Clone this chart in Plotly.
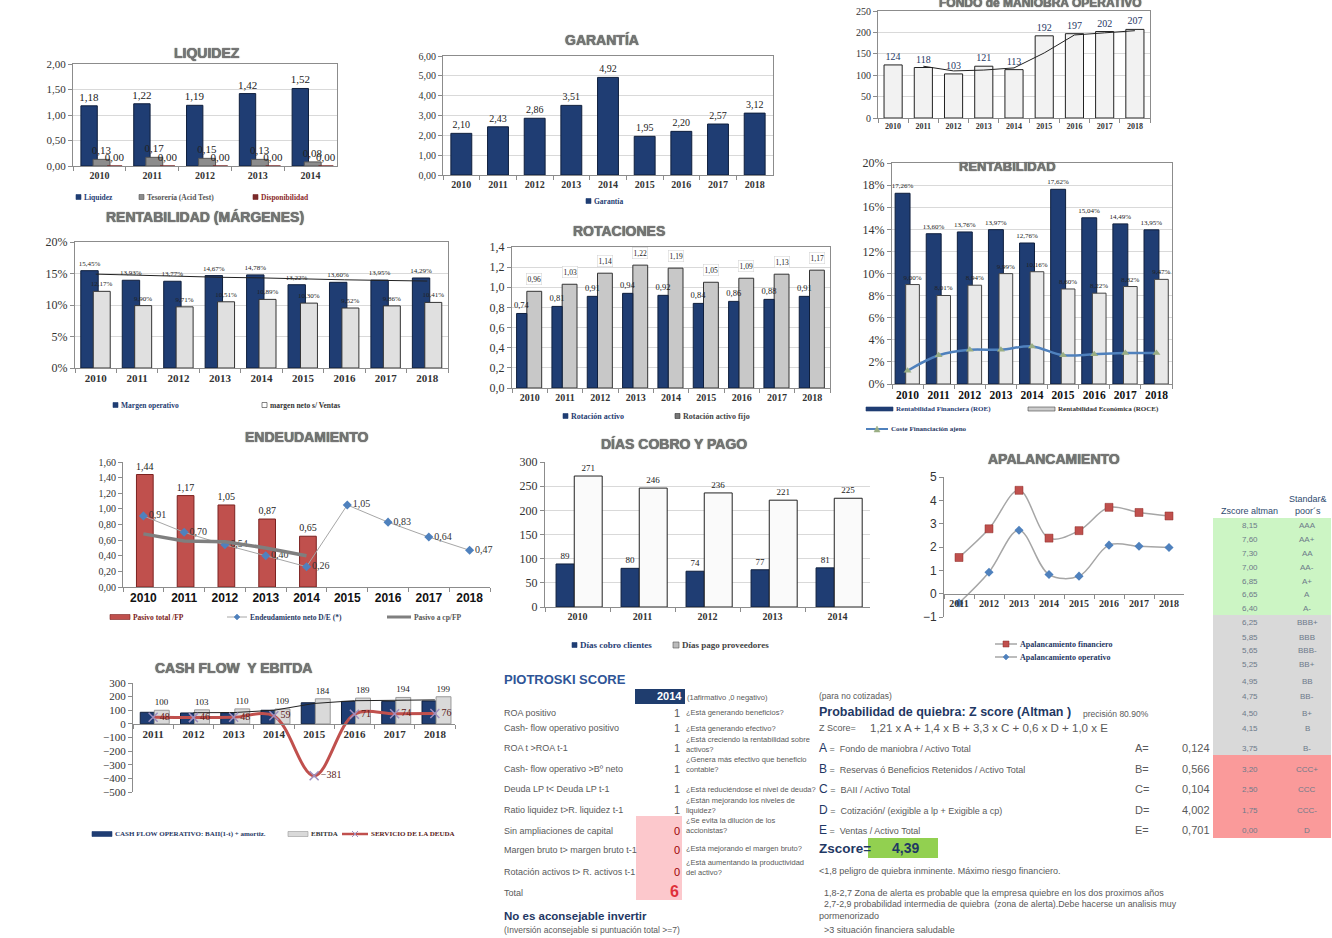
import plotly.graph_objects as go

W, H = 1332, 938

# ---------------- data ----------------
years9 = ["2010", "2011", "2012", "2013", "2014", "2015", "2016", "2017", "2018"]
years5 = ["2010", "2011", "2012", "2013", "2014"]
years8 = ["2011", "2012", "2013", "2014", "2015", "2016", "2017", "2018"]

liquidez = [1.18, 1.22, 1.19, 1.42, 1.52]
tesoreria = [0.13, 0.17, 0.15, 0.13, 0.08]
disponibilidad = [0.00, 0.00, 0.00, 0.00, 0.00]

garantia = [2.10, 2.43, 2.86, 3.51, 4.92, 1.95, 2.20, 2.57, 3.12]

fondo_maniobra = [124, 118, 103, 121, 113, 192, 197, 202, 207]
fondo_tendencia = [None, 121, 110, 112, 117, 152, 194, 199, 204]

margen_operativo = [0.1545, 0.1393, 0.1377, 0.1467, 0.1478, 0.1322, 0.1360, 0.1395, 0.1429]
margen_neto = [0.1217, 0.0990, 0.0971, 0.1051, 0.1089, 0.1030, 0.0952, 0.0986, 0.1041]
margen_tendencia = [0.149, 0.147, 0.145, 0.144, 0.143, 0.141, 0.140, 0.139, 0.138]

rot_activo = [0.74, 0.81, 0.91, 0.94, 0.92, 0.84, 0.86, 0.88, 0.91]
rot_activo_fijo = [0.96, 1.03, 1.14, 1.22, 1.19, 1.05, 1.09, 1.13, 1.17]

roe = [0.1726, 0.1360, 0.1376, 0.1397, 0.1276, 0.1762, 0.1504, 0.1449, 0.1395]
roce = [0.0900, 0.0801, 0.0894, 0.0999, 0.1016, 0.0860, 0.0822, 0.0882, 0.0947]
coste_fin = [0.012, 0.026, 0.031, 0.031, 0.034, 0.026, 0.027, 0.028, 0.028]

pasivo_total_fp = [1.44, 1.17, 1.05, 0.87, 0.65]
endeud_neto = [0.91, 0.70, 0.54, 0.40, 0.26, 1.05, 0.83, 0.64, 0.47]
pasivo_cp_fp = [0.68, 0.59, 0.58, 0.50, 0.40]

dias_cobro = [89, 80, 74, 77, 81]
dias_pago = [271, 246, 236, 221, 225]

apal_financiero = [1.55, 2.78, 4.43, 2.38, 2.70, 3.70, 3.48, 3.33]
apal_operativo = [-0.40, 0.92, 2.72, 0.82, 0.75, 2.08, 2.03, 1.98]

cf_operativo = [85, 80, 82, 100, 155, 165, 165, 168]
ebitda = [100, 103, 110, 109, 184, 189, 194, 199]
servicio_deuda = [48, 46, 48, 59, -381, 71, 74, 76]
cf_tendencia = [None, 82, 83, 100, 150, 170, 174, 176]

z_scores = ["8,15", "7,60", "7,30", "7,00", "6,85", "6,65", "6,40", "6,25", "5,85", "5,65",
            "5,25", "4,95", "4,75", "4,50", "4,15", "3,75", "3,20", "2,50", "1,75", "0,00"]
sp_ratings = ["AAA", "AA+", "AA", "AA-", "A+", "A", "A-", "BBB+", "BBB", "BBB-",
              "BB+", "BB", "BB-", "B+", "B", "B-", "CCC+", "CCC", "CCC-", "D"]

pio_labels = ["ROA positivo", "Cash- flow operativo positivo", "ROA t >ROA t-1",
              "Cash- flow operativo >Bº neto", "Deuda LP t< Deuda LP t-1",
              "Ratio liquidez t>R. liquidez t-1", "Sin ampliaciones de capital",
              "Margen bruto t> margen bruto t-1", "Rotación activos t> R. activos t-1"]
pio_scores = [1, 1, 1, 1, 1, 1, 0, 0, 0]
pio_questions = ["¿Está generando beneficios?", "¿Está generando efectivo?",
                 "¿Está creciendo la rentabilidad sobre<br>activos?",
                 "¿Genera más efectivo que beneficio<br>contable?",
                 "¿Está reduciéndose el nivel de deuda?",
                 "¿Están mejorando los niveles de<br>liquidez?",
                 "¿Se evita la dilución de los<br>accionistas?",
                 "¿Está mejorando el margen bruto?",
                 "¿Está aumentando la productividad<br>del activo?"]
pio_total = 6

altman_letters = ["A", "B", "C", "D", "E"]
altman_desc = ["Fondo de maniobra / Activo Total", "Reservas ó Beneficios Retenidos / Activo Total",
               "BAII / Activo Total", "Cotización/ (exigible a lp + Exigible a cp)", "Ventas / Activo Total"]
altman_values = ["0,124", "0,566", "0,104", "4,002", "0,701"]
zscore_value = "4,39"

# ---------------- helpers ----------------
fig = go.Figure()
annotations, shapes = [], []
layout = {}

SERIF = "Liberation Serif"
SANS = "Liberation Sans"
NARROW = "Liberation Sans Narrow, Liberation Sans"
GRID = "#d9d9d9"
AXL = "#8c8c8c"
BLUE = "#1f3d73"
BLUE_L = "#0f1f3d"
BODY = "#595959"
HEAD = "#1f3864"


def PX(x):
    return x / W


def PY(y):
    return 1 - y / H


def axn(i):
    return ("x" if i == 1 else f"x{i}"), ("y" if i == 1 else f"y{i}")


def font(size, color="#222", family=SERIF, bold=False):
    return dict(family=family, size=size, color=color, weight="bold" if bold else "normal")


def setup(i, left, right, top, bottom, yrange, dtick, fmt, cats, xfont, yfont,
          grid=True, box=True, xpos=None):
    xn, yn = axn(i)
    xa = dict(domain=[PX(left), PX(right)], anchor=yn if xpos is None else "free",
              type="category", categoryorder="array", categoryarray=cats,
              range=[-0.5, len(cats) - 0.5], showline=True, linecolor=AXL, mirror=box,
              ticks="outside", tickson="boundaries", ticklen=4, tickcolor=AXL, tickangle=0,
              showgrid=False, zeroline=False, tickfont=xfont, fixedrange=True, automargin=False)
    if xpos is not None:
        xa["position"] = xpos
    ya = dict(domain=[PY(bottom), PY(top)], anchor=xn, range=yrange, dtick=dtick,
              tickformat=fmt, showline=True, linecolor=AXL, mirror=box, ticks="outside",
              ticklen=4, tickcolor=AXL, showgrid=grid, gridcolor=GRID, zeroline=False,
              tickfont=yfont, fixedrange=True, automargin=False)
    layout["xaxis" if i == 1 else f"xaxis{i}"] = xa
    layout["yaxis" if i == 1 else f"yaxis{i}"] = ya


def bar(i, x, y, offset, width, fill, line, text=None, tsize=9, tcolor="#222", lw=1):
    xn, yn = axn(i)
    fig.add_trace(go.Bar(x=x, y=y, xaxis=xn, yaxis=yn, offset=offset, width=width,
                         marker=dict(color=fill, line=dict(color=line, width=lw)),
                         texttemplate=text, textposition="outside" if text else "none",
                         textfont=font(tsize, tcolor), constraintext="none",
                         cliponaxis=False, showlegend=False, hoverinfo="skip"))


def title(text, xc, yc, size=14):
    annotations.append(dict(text=f"<b>{text}</b>", x=PX(xc), y=PY(yc), xref="paper",
                            yref="paper", showarrow=False, xanchor="center", yanchor="middle",
                            font=dict(family=SANS, size=size, color="#767676",
                                      shadow="0px 0px 1px #222")))


def txt(text, x, y, size=9, color=BODY, family=NARROW, bold=False, xanchor="left"):
    annotations.append(dict(text=text, x=PX(x), y=PY(y), xref="paper", yref="paper",
                            showarrow=False, xanchor=xanchor, yanchor="middle", align=xanchor,
                            font=font(size, color, family, bold)))


def rect(x0, y0, x1, y1, fill, line=None, lw=0.6):
    shapes.append(dict(type="rect", xref="paper", yref="paper", x0=PX(x0), x1=PX(x1),
                       y0=PY(y1), y1=PY(y0), fillcolor=fill,
                       line=dict(color=line or fill, width=lw if line else 0), layer="below"))


def leg_box(x, y, w, h, fill, line, text, tcolor, size=7.5):
    rect(x, y - h / 2, x + w, y + h / 2, fill, line)
    txt(text, x + w + 1, y, size, tcolor, SERIF, True)


def marker_shape(kind, cx, cy, color, s=3):
    if kind == "square":
        shapes.append(dict(type="rect", xref="paper", yref="paper", x0=PX(cx - s), x1=PX(cx + s),
                           y0=PY(cy + s), y1=PY(cy - s), fillcolor=color,
                           line=dict(color="#8b2a27", width=0.5)))
    elif kind == "diamond":
        p = (f"M{PX(cx)},{PY(cy - s)} L{PX(cx + s)},{PY(cy)} L{PX(cx)},{PY(cy + s)} "
             f"L{PX(cx - s)},{PY(cy)} Z")
        shapes.append(dict(type="path", xref="paper", yref="paper", path=p, fillcolor=color,
                           line=dict(color=color, width=0.5)))
    elif kind == "triangle":
        p = f"M{PX(cx)},{PY(cy - s)} L{PX(cx + s)},{PY(cy + s)} L{PX(cx - s)},{PY(cy + s)} Z"
        shapes.append(dict(type="path", xref="paper", yref="paper", path=p, fillcolor=color,
                           line=dict(color=color, width=0.5)))
    elif kind == "x":
        for a, b in ((-s, s), (s, -s)):
            shapes.append(dict(type="line", xref="paper", yref="paper", x0=PX(cx + a),
                               x1=PX(cx + b), y0=PY(cy - s), y1=PY(cy + s),
                               line=dict(color=color, width=1)))


def leg_line(x, y, length, color, width, text, tcolor, marker=None, mcolor=None, size=7.5):
    shapes.append(dict(type="line", xref="paper", yref="paper", x0=PX(x), x1=PX(x + length),
                       y0=PY(y), y1=PY(y), line=dict(color=color, width=width)))
    if marker:
        marker_shape(marker, x + length / 2, y, mcolor)
    txt(text, x + length + 1, y, size, tcolor, SERIF, True)


XF = lambda s=10, c="#333": font(s, c, SERIF, True)
YF = lambda s=11, c="#333": font(s, c, SERIF, False)

# ---------------- 1 LIQUIDEZ ----------------
setup(1, 73, 337, 64, 166, [0, 2], 0.5, ".2f", years5, XF(10), YF(11))
bar(1, years5, liquidez, -0.35, 0.31, BLUE, BLUE_L, "%{y:.2f}", 11)
bar(1, years5, tesoreria, -0.12, 0.32, "#8c8c8c", "#555555", "%{y:.2f}", 11)
bar(1, years5, disponibilidad, 0.15, 0.28, "#7b2a2a", "#7b2a2a", "%{y:.2f}", 11)
title("LIQUIDEZ", 207, 53)
leg_box(76, 197, 5, 5, BLUE, BLUE, "Liquidez", BLUE)
leg_box(139, 197, 5, 5, "#8c8c8c", "#555", "Tesorería (Acid Test)", "#555555")
leg_box(253, 197, 5, 5, "#7b2a2a", "#7b2a2a", "Disponibilidad", "#8b2a2a")

# ---------------- 2 GARANTIA ----------------
setup(2, 443, 773, 56, 175, [0, 6], 1, ".2f", years9, XF(10), YF(10))
bar(2, years9, garantia, -0.285, 0.57, BLUE, BLUE_L, "%{y:.2f}", 10)
title("GARANTÍA", 602, 40)
leg_box(586, 201, 5, 5, BLUE, BLUE, "Garantía", BLUE)

# ---------------- 3 FONDO DE MANIOBRA ----------------
setup(3, 878, 1150, 11, 118, [0, 250], 50, "d", years9, XF(8), YF(10))
bar(3, years9, fondo_maniobra, -0.3, 0.6, "#f2f2f2", "#222222", "%{y}", 10, HEAD)
fig.add_trace(go.Scatter(x=years9, y=fondo_tendencia, xaxis="x3", yaxis="y3", mode="lines",
                         line=dict(color="#222", width=1), showlegend=False, hoverinfo="skip"))
title("FONDO de MANIOBRA OPERATIVO", 1040, 3, 12)

# ---------------- 4 RENTABILIDAD (MARGENES) ----------------
setup(4, 75, 448, 242, 368, [0, 0.2], 0.05, ".0%", years9, XF(11), YF(12))
bar(4, years9, margen_operativo, -0.36, 0.42, BLUE, BLUE_L, "%{y:.2%}", 7)
bar(4, years9, margen_neto, -0.06, 0.41, "#e0e0e0", "#333333", "%{y:.2%}", 7)
fig.add_trace(go.Scatter(x=years9, y=margen_tendencia, xaxis="x4", yaxis="y4", mode="lines",
                         line=dict(color="#222", width=1), showlegend=False, hoverinfo="skip"))
title("RENTABILIDAD (MÁRGENES)", 205, 217)
leg_box(113, 405, 5, 5, BLUE, BLUE, "Margen operativo", BLUE)
leg_box(262, 405, 5, 5, "#ffffff", "#333", "margen neto s/ Ventas", "#333333")

# ---------------- 5 ROTACIONES ----------------
setup(5, 512, 830, 247, 388, [0, 1.4], 0.2, ".1f", years9, XF(10), YF(12))
bar(5, years9, rot_activo_fijo, -0.08, 0.42, "#c8c8c8", "#333333")
bar(5, years9, rot_activo, -0.37, 0.29, BLUE, BLUE_L, "%{y:.2f}", 8.5)
for k, v in enumerate(rot_activo_fijo):
    annotations.append(dict(text=f"{v:.2f}".replace(".", ","), x=k + 0.13, y=v, xref="x5",
                            yref="y5", yshift=12, showarrow=False, bgcolor="#ffffff",
                            bordercolor="#d0d0d0", borderwidth=0.5, borderpad=1,
                            font=font(7.5, "#222")))
title("ROTACIONES", 619, 231)
leg_box(563, 416, 5, 5, BLUE, BLUE, "Rotación activo", BLUE, 8)
leg_box(675, 416, 5, 5, "#777", "#333", "Rotación activo fijo", "#444444", 8)

# ---------------- 6 RENTABILIDAD ----------------
setup(6, 892, 1172, 163, 384, [0, 0.2], 0.02, ".0%", years9, XF(11.5, "#111"), YF(12))
bar(6, years9, roe, -0.4, 0.48, BLUE, BLUE_L, "%{y:.2%}", 7)
bar(6, years9, roce, -0.06, 0.44, "#e8e8e8", "#444444", "%{y:.2%}", 7)
fig.add_trace(go.Scatter(x=years9, y=coste_fin, xaxis="x6", yaxis="y6", mode="lines+markers",
                         line=dict(color="#4f81bd", width=2.5, shape="spline"),
                         marker=dict(symbol="triangle-up", size=7, color="#9aae84"),
                         showlegend=False, hoverinfo="skip"))
title("RENTABILIDAD", 1007, 166, 13)
leg_box(866, 409, 27, 4, BLUE, BLUE, "Rentabilidad Financiera (ROE)", BLUE, 7)
leg_box(1028, 409, 27, 4, "#cccccc", "#444", "Rentabilidad Económica (ROCE)", "#333333", 7)
leg_line(866, 429, 22, "#4f81bd", 2, "Coste Financiación ajeno", HEAD, "triangle", "#9aae84", 7)

# ---------------- 7 ENDEUDAMIENTO ----------------
setup(7, 123, 490, 462, 587, [0, 1.6], 0.2, ".2f", years9, font(12, "#111", SANS, True),
      YF(10), grid=False, box=False)
bar(7, years5, pasivo_total_fp, -0.17, 0.41, "#c0504d", "#7b2220", "%{y:.2f}", 10)
fig.add_trace(go.Scatter(x=years9, y=endeud_neto, xaxis="x7", yaxis="y7",
                         mode="lines+markers+text", texttemplate="%{y:.2f}",
                         textposition="middle right", textfont=font(10, "#333"),
                         line=dict(color="#a6a6a6", width=1),
                         marker=dict(symbol="diamond", size=7, color="#4f81bd"),
                         cliponaxis=False, showlegend=False, hoverinfo="skip"))
fig.add_trace(go.Scatter(x=years5, y=pasivo_cp_fp, xaxis="x7", yaxis="y7", mode="lines",
                         line=dict(color="#7f7f7f", width=3.5), showlegend=False,
                         hoverinfo="skip"))
title("ENDEUDAMIENTO", 307, 437)
leg_box(110, 617, 20, 5, "#c0504d", "#7b2220", "Pasivo total /FP", "#7b2220")
leg_line(227, 617, 20, "#a6a6a6", 1, "Endeudamiento neto D/E (*)", "#1f3864", "diamond", "#4f81bd")
leg_line(387, 617, 24, "#7f7f7f", 3, "Pasivo a cp/FP", "#555555")

# ---------------- 8 DIAS COBRO Y PAGO ----------------
setup(8, 545, 870, 462, 607, [0, 300], 50, "d", years5, XF(10), YF(12), box=False)
bar(8, years5, dias_cobro, -0.33, 0.28, BLUE, BLUE_L, "%{y}", 9)
bar(8, years5, dias_pago, -0.05, 0.43, "#fafafa", "#222222", "%{y}", 9)
title("DÍAS COBRO Y PAGO", 674, 444)
leg_box(572, 645, 5, 5, BLUE, BLUE, "Días cobro clientes", BLUE, 9)
leg_box(673, 645, 6, 6, "#bbbbbb", "#555", "Días pago proveedores", "#444444", 9)

# ---------------- 9 APALANCAMIENTO ----------------
apal_top, apal_bot = 477, 617
apal_pos = PY(apal_bot) + (0 - (-1)) / 6 * ((apal_bot - apal_top) / H)
setup(9, 944, 1184, apal_top, apal_bot, [-1, 5], 1, "d", years8, XF(10), font(12, "#333", SANS),
      grid=False, box=False, xpos=apal_pos)
fig.add_trace(go.Scatter(x=years8, y=apal_financiero, xaxis="x9", yaxis="y9", mode="lines+markers",
                         line=dict(color="#a6a6a6", width=1.5, shape="spline"),
                         marker=dict(symbol="square", size=8, color="#c0504d",
                                     line=dict(color="#8b2a27", width=0.5)),
                         showlegend=False, hoverinfo="skip"))
fig.add_trace(go.Scatter(x=years8, y=apal_operativo, xaxis="x9", yaxis="y9", mode="lines+markers",
                         line=dict(color="#a6a6a6", width=1.5, shape="spline"),
                         marker=dict(symbol="diamond", size=7, color="#4f81bd"),
                         cliponaxis=False, showlegend=False, hoverinfo="skip"))
title("APALANCAMIENTO", 1054, 459)
leg_line(995, 644, 22, "#a6a6a6", 1.5, "Apalancamiento financiero", "#1f3864", "square", "#c0504d", 8)
leg_line(995, 657, 22, "#a6a6a6", 1.5, "Apalancamiento operativo", "#1f3864", "diamond", "#4f81bd", 8)

# ---------------- 10 CASH FLOW Y EBITDA ----------------
cf_top, cf_bot = 683, 792
cf_pos = PY(cf_bot) + (0 - (-500)) / 800 * ((cf_bot - cf_top) / H)
setup(10, 133, 455, cf_top, cf_bot, [-500, 300], 100, "d", years8, XF(11), YF(11),
      grid=False, box=False, xpos=cf_pos)
bar(10, years8, cf_operativo, -0.32, 0.35, BLUE, BLUE_L)
bar(10, years8, ebitda, 0.03, 0.37, "#d9d9d9", "#999999", "%{y}", 9)
fig.add_trace(go.Scatter(x=years8, y=cf_tendencia, xaxis="x10", yaxis="y10", mode="lines",
                         line=dict(color="#222", width=1), showlegend=False, hoverinfo="skip"))
fig.add_trace(go.Scatter(x=years8, y=servicio_deuda, xaxis="x10", yaxis="y10",
                         mode="lines+markers+text", texttemplate="%{y}",
                         textposition="middle right", textfont=font(10, "#5a1a18"),
                         line=dict(color="#c0504d", width=3, shape="spline"),
                         marker=dict(symbol="x-thin", size=9, color="#9e8fbf",
                                     line=dict(color="#9e8fbf", width=1.5)),
                         cliponaxis=False, showlegend=False, hoverinfo="skip"))
title("CASH FLOW  Y EBITDA", 233, 668)
leg_box(92, 834, 20, 5, BLUE, BLUE, "CASH FLOW OPERATIVO: BAII(1-t) + amortiz.", "#1f3864", 7)
leg_box(288, 834, 20, 5, "#d9d9d9", "#999", "EBITDA", "#333333", 7)
leg_line(342, 834, 26, "#c0504d", 2.5, "SERVICIO DE LA DEUDA", "#5a1a18", "x", "#9e8fbf", 7)

# ---------------- Z-score table ----------------
rect(1213, 518, 1331, 615, "#ccf5c4")
rect(1213, 615, 1331, 755, "#d9d9d9")
rect(1213, 755, 1331, 838, "#fa9a9a")
txt("Zscore altman", 1249, 511, 9, "#2f4a6e", SANS, False, "center")
txt("Standar&amp;<br>poor´s", 1308, 505, 9, "#2f4a6e", SANS, False, "center")
z_row_y = [525, 539, 553, 567, 581, 594, 608, 622, 637, 650, 664, 681, 696, 713, 728, 748,
           769, 789, 810, 830]
for zy, zv, sr in zip(z_row_y, z_scores, sp_ratings):
    txt(zv, 1250, zy, 8, "#6d7a8a", SANS, False, "center")
    txt(sr, 1307, zy, 8, "#6d7a8a", SANS, False, "center")

# ---------------- Piotroski ----------------
txt("PIOTROSKI SCORE", 502, 679, 13, "#2f5597", SANS, True)
rect(635, 689, 685, 704, "#1f3d6e")
txt("2014", 684, 696, 11, "#ffffff", NARROW, True, "right")
txt("(1afirmativo ,0 negativo)", 685, 697, 7.5, BODY)
rect(636, 816, 682, 900, "#fcc8cc")
pio_row_y = [713, 728, 748, 769, 789, 810, 831, 850, 872]
pio_q_y = [712, 728, 744, 764, 789, 805, 825, 848, 867]
for ly, qy, lab, sc, q in zip(pio_row_y, pio_q_y, pio_labels, pio_scores, pio_questions):
    txt(lab, 502, ly, 9, BODY)
    txt(str(sc), 682, ly, 11, BODY if sc else "#9c0006", NARROW, False, "right")
    txt(q, 684, qy, 7.5, BODY)
txt("Total", 502, 893, 9, BODY)
txt(str(pio_total), 681, 891, 16, "#e0303a", SANS, True, "right")
txt("No es aconsejable invertir", 502, 916, 11.5, "#1f3864", SANS, True)
txt("(Inversión aconsejable si puntuación total >=7)", 502, 930, 8.5, BODY)

# ---------------- Altman ----------------
txt("(para no cotizadas)", 817, 696, 8.5, BODY)
txt("Probabilidad de quiebra: Z score (Altman )", 817, 712, 12.5, HEAD, NARROW, True)
txt("precisión 80.90%", 1081, 714, 8.5, BODY)
txt("Z Score=", 817, 728, 9, BODY)
txt("1,21 x A + 1,4 x B + 3,3 x C + 0,6 x D + 1,0 x E", 868, 728, 11.5, BODY)
alt_y = [748, 769, 789, 810, 830]
for ay, let, desc, val in zip(alt_y, altman_letters, altman_desc, altman_values):
    txt(f"<span style='font-size:12px;color:#1f3864'>{let}</span> =  {desc}", 817, ay, 9, BODY)
    txt(f"{let}=", 1133, ay, 11, BODY)
    txt(val, 1212, ay, 11, BODY, NARROW, False, "right")
txt("Zscore=", 817, 848, 13.5, HEAD, NARROW, True)
rect(868, 838, 938, 858, "#92d050")
txt(zscore_value, 905, 848, 14, HEAD, NARROW, True, "center")
txt("<1,8 peligro de quiebra inminente. Máximo riesgo financiero.", 817, 871, 9, BODY)
txt("1,8-2,7 Zona de alerta es probable que la empresa quiebre en los dos proximos años",
    822, 893, 9, BODY)
txt("2,7-2,9 probabilidad intermedia de quiebra  (zona de alerta).Debe hacerse un analisis muy",
    822, 904, 8.8, BODY)
txt("pormenorizado", 817, 916, 9, BODY)
txt(">3 situación financiera saludable", 822, 930, 9, BODY)

fig.update_layout(width=W, height=H,
                  margin=dict(l=0, r=0, t=0, b=0, pad=0, autoexpand=False),
                  paper_bgcolor="white", plot_bgcolor="white", separators=",.",
                  barmode="overlay", showlegend=False,
                  font=dict(family=SANS, size=10, color="#333"),
                  annotations=annotations, shapes=shapes, **layout)
fig.write_html("out.html", config={"displayModeBar": False},
               post_script="document.body.style.margin='0';document.body.style.overflow='hidden';")
